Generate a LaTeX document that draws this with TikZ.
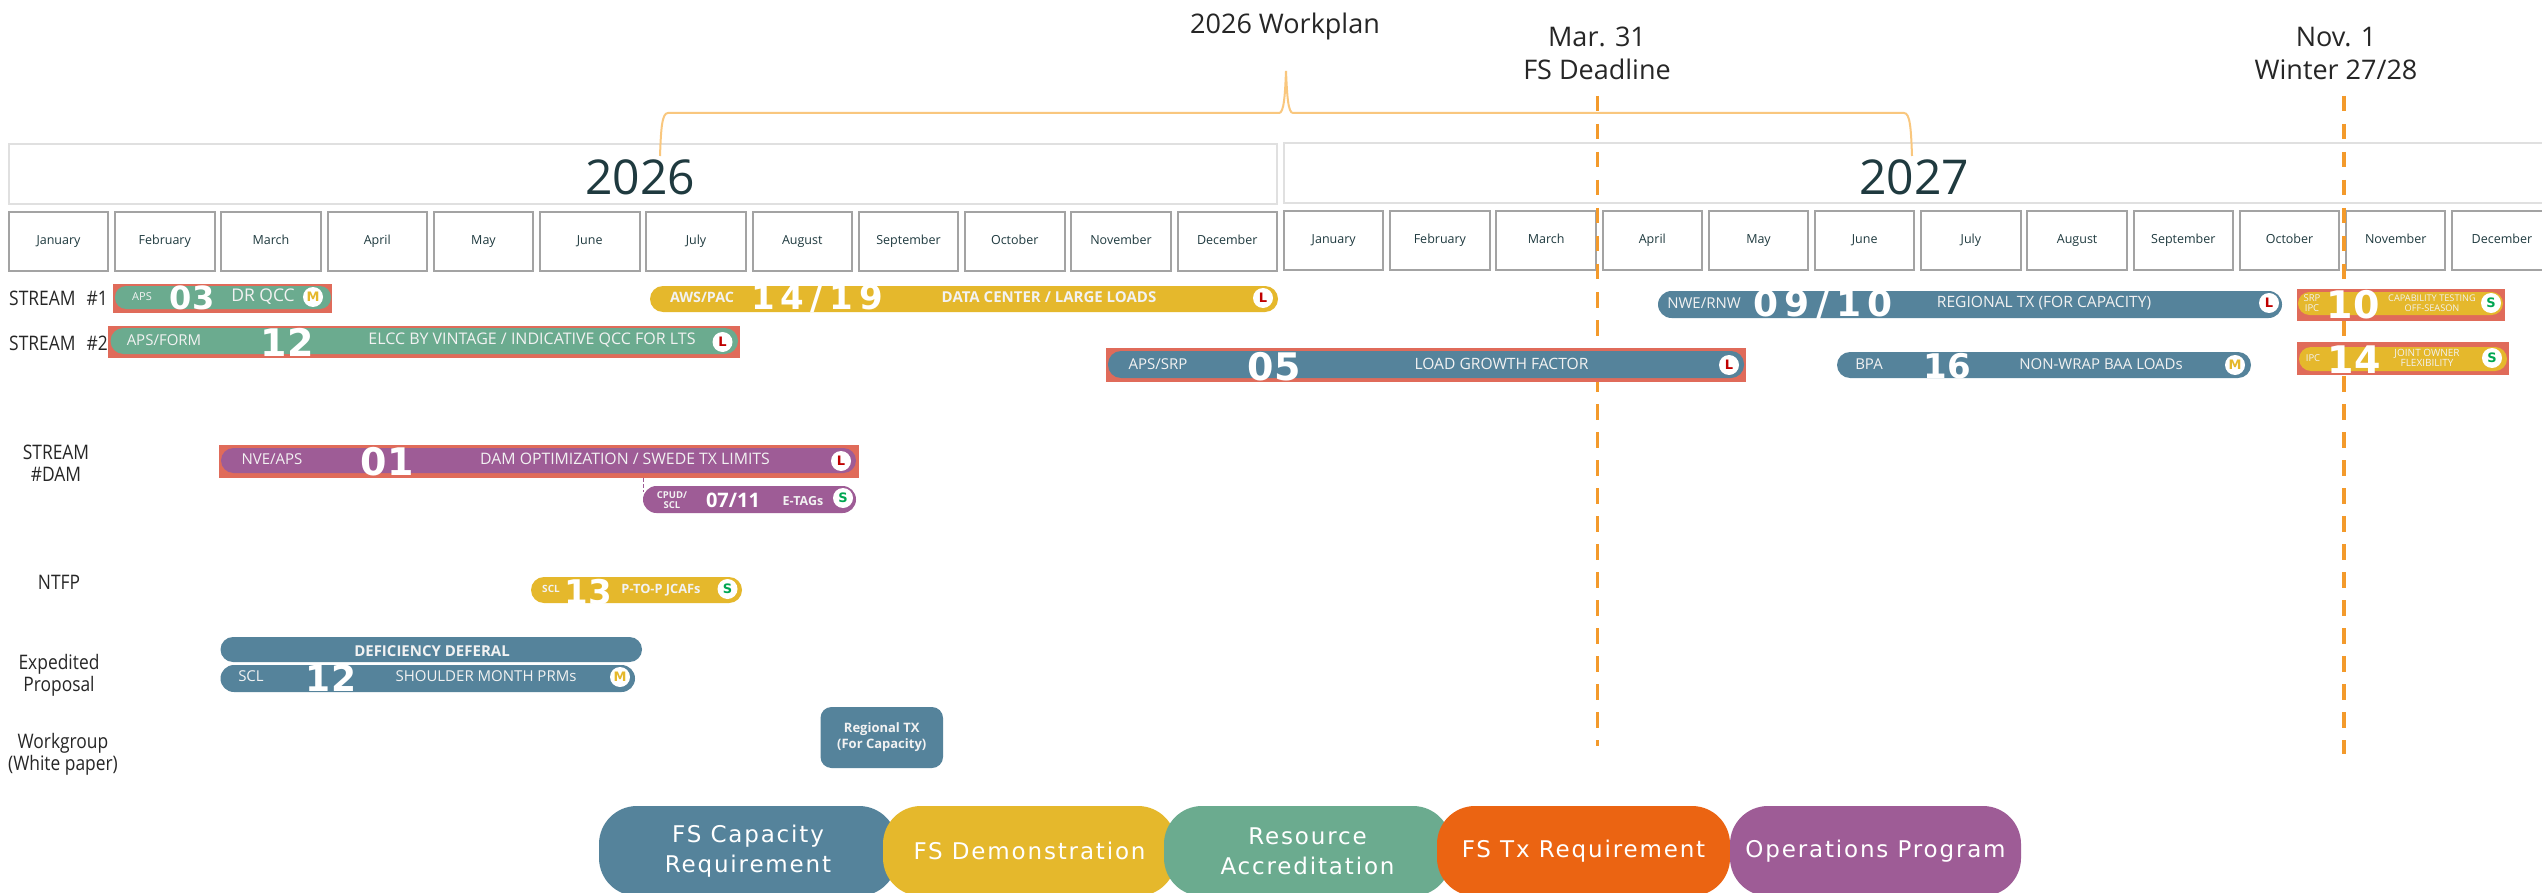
\documentclass[tikz,border=0pt]{standalone}
\usepackage{fontspec}
\setmainfont{Open Sans}
\newfontfamily\numfont{DejaVu Sans}
\newfontfamily\numspaced{DejaVu Sans}[LetterSpace=18]
\newfontfamily\legfont{DejaVu Sans}[LetterSpace=8]
\newfontfamily\narrowf{Open Sans}[FakeStretch=0.87]
\definecolor{cblue}{HTML}{55839B}
\definecolor{cyellow}{HTML}{E5B82C}
\definecolor{cgreen}{HTML}{6BAB8F}
\definecolor{corange}{HTML}{EB6412}
\definecolor{cpurple}{HTML}{9E5C96}
\definecolor{cred}{HTML}{E06B5A}
\definecolor{cdark}{HTML}{1F3A3F}
\definecolor{cbrace}{HTML}{F9C77E}
\definecolor{cdash}{HTML}{F39A2B}
\definecolor{cltxt}{HTML}{F2F2F2}
\definecolor{clabel}{HTML}{262626}
\definecolor{bL}{HTML}{C00000}
\definecolor{bM}{HTML}{E5B82C}
\definecolor{bS}{HTML}{00A651}
\newcommand\fs[1]{\fontsize{#1}{#1}\selectfont}
\newcommand\fsl[2]{\fontsize{#1}{#2}\selectfont}
\tikzset{
  yearbox/.style={draw=black!12,line width=2pt,fill=white,inner sep=0pt,minimum height=60pt},
  monthbox/.style={draw=black!36,line width=2pt,fill=white,inner sep=0pt,minimum height=59pt,minimum width=99.5pt,text=cdark,font=\fs{12.5},text height=10pt,text depth=3.5pt},
  yeartxt/.style={text=cdark,inner sep=0pt,font=\fs{48}},
  headtxt/.style={text=clabel,inner sep=0pt,align=center,font=\fsl{27}{33}},
  rowtxt/.style={text=clabel,inner sep=0pt,align=center,font=\narrowf\fsl{20}{22}},
  barbox/.style={inner sep=0pt,line width=0pt,draw=none},
  lbl/.style={text=cltxt,inner sep=0pt,align=center},
  numtxt/.style={text=white,inner sep=0pt},
  badge/.style={circle,fill=white,inner sep=0pt,minimum size=20pt,font=\numfont\bfseries\fs{13}},
  legend/.style={inner sep=0pt,text=white,align=center,rounded corners=38pt,font=\legfont\fsl{23}{30}},
  deadline/.style={draw=cdash,line width=3.5pt,dash pattern=on 15.5pt off 12.5pt},
  bracket/.style={draw=cbrace,line width=2pt},
}
% rectangle bar: name, x1, y1, x2, y2, colour, radius
\newcommand\pillbar[7]{\node[barbox,fill=#6,rounded corners=#7pt,minimum width={#4-#2},minimum height={#5-#3}] (#1) at ({(#2+#4)/2},{(#3+#5)/2}) {};}
\newcommand\redbar[5]{\node[barbox,fill=cred,minimum width={#4-#2},minimum height={#5-#3}] (#1) at ({(#2+#4)/2},{(#3+#5)/2}) {};}
\newcommand\lab[5]{\node[lbl,font=\fsl{#4}{10}] (#1) at (#2,#3) {#5};}
\newcommand\num[5]{\node[numtxt,font=\numfont\bfseries\fs{#4}] (#1) at (#2,#3) {#5};}
\newcommand\snum[5]{\node[numtxt,font=\numspaced\bfseries\fs{#4}] (#1) at (#2,#3) {#5};}
\newcommand\bdg[4]{\node[badge,text=b#4] (#1) at (#2,#3) {#4};}
\begin{document}
\begin{tikzpicture}[x=1pt,y=-1pt]
\useasboundingbox (0,0) rectangle (2542,893);
\clip (0,0) rectangle (2542,893);
\fill[white] (0,0) rectangle (2542,893);

% year boxes
\node[yearbox,minimum width=1268pt] (y26box) at (642.5,174) {};
\node[yearbox,minimum width=1290pt] (y27box) at (1929,173) {};
\node[yeartxt] (y26) at (640,177) {2026};
\node[yeartxt] (y27) at (1914,177) {2027};

% months
\foreach \mname [count=\i from 0] in {January,February,March,April,May,June,July,August,September,October,November,December}{
  \node[monthbox] (ma\i) at ({58.5+106.25*\i},241.5) {\mname};
  \node[monthbox] (mb\i) at ({1333.7+106.2*\i},240.5) {\mname};
}

% heading bracket
\coordinate (bl) at (660,156);
\coordinate (bt) at (1286,71);
\coordinate (br) at (1912,156);
\draw[bracket] (bl) .. controls (661,128) and (662,113) .. (668,113) -- (1279,113) .. controls (1284,113) and (1285,95) .. (bt) .. controls (1287,95) and (1288,113) .. (1293,113) -- (1904,113) .. controls (1910,113) and (1911,128) .. (br);

\node[headtxt] (wp) at (1285,26) {2026 Workplan};
\node[headtxt] (mar) at (1597,53) {Mar. 31\\FS Deadline};
\node[headtxt] (nov) at (2336,53) {Nov. 1\\Winter 27/28};

% deadlines
\coordinate (d1t) at (1597.5,96);
\coordinate (d1b) at (1597.5,746);
\coordinate (d2t) at (2344,96);
\coordinate (d2b) at (2344,754);
\draw[deadline] (d1t) -- (d1b);
\draw[deadline] (d2t) -- (d2b);

% row labels
\node[rowtxt,anchor=west] (r1) at (9,298) {STREAM\hspace{11pt}\#1};
\node[rowtxt,anchor=west] (r2) at (9,343) {STREAM\hspace{11pt}\#2};
\node[rowtxt] (r3) at (56,463) {STREAM\\\#DAM};
\node[rowtxt] (r4) at (59,582) {NTFP};
\node[rowtxt] (r5) at (59,675) {Expedited\\Proposal};
\node[rowtxt] (r6) at (63,754) {Workgroup\\(White paper)};

% 03
\redbar{b03r}{113}{284}{332}{313}
\pillbar{b03}{115}{286}{331}{309}{cgreen}{11}
\lab{t03a}{142}{297}{11}{APS}
\num{t03n}{192}{298}{32}{03}
\lab{t03b}{263}{297}{17.5}{DR QCC}
\bdg{t03c}{313}{297}{M}

% 12 stream 2
\redbar{b12r}{108}{326}{740}{358}
\pillbar{b12}{110.5}{328}{738}{354}{cgreen}{13}
\lab{t12a}{164}{340}{15}{APS/FORM}
\num{t12n}{287}{342}{38}{12}
\lab{t12b}{532}{340}{16}{ELCC BY VINTAGE / INDICATIVE QCC FOR LTS}
\bdg{t12c}{722.5}{342}{L}

% 14/19
\pillbar{b14}{650}{286}{1278}{312}{cyellow}{13}
\lab{t14a}{702}{297}{14.3}{\bfseries AWS/PAC}
\snum{t14n}{817}{298}{34}{14/19}
\lab{t14b}{1049}{297}{15}{\bfseries DATA CENTER / LARGE LOADS}
\bdg{t14c}{1263}{298}{L}

% 05
\redbar{b05r}{1106}{348}{1746}{382}
\pillbar{b05}{1108}{351}{1744}{378}{cblue}{13}
\lab{t05a}{1158}{364}{15}{APS/SRP}
\num{t05n}{1274}{367}{38}{05}
\lab{t05b}{1501.5}{364}{15.6}{LOAD GROWTH FACTOR}
\bdg{t05c}{1729}{365}{L}

% 09/10
\pillbar{b09}{1658}{291}{2282}{318}{cblue}{13.5}
\lab{t09a}{1704}{303}{15}{NWE/RNW}
\snum{t09n}{1823}{305}{36}{09/10}
\lab{t09b}{2044}{303}{15.6}{REGIONAL TX (FOR CAPACITY)}
\bdg{t09c}{2269}{303}{L}

% 16
\pillbar{b16}{1837}{352}{2251}{378}{cblue}{13}
\lab{t16a}{1869}{364}{15}{BPA}
\num{t16n}{1947}{366}{34}{16}
\lab{t16b}{2101}{364}{15}{NON-WRAP BAA LOADs}
\bdg{t16c}{2235}{365}{M}

% 10
\redbar{b10r}{2297}{289}{2505}{321}
\pillbar{b10}{2298}{292}{2503}{315}{cyellow}{11.5}
\lab{t10a}{2312}{303.5}{9.5}{SRP\\IPC}
\num{t10n}{2353}{305}{38}{10}
\lab{t10b}{2432}{303.5}{9.2}{CAPABILITY TESTING\\OFF-SEASON}
\bdg{t10c}{2491}{303}{S}

% 14 joint owner
\redbar{b15r}{2297}{342}{2509}{375}
\pillbar{b15}{2299}{347}{2507}{371}{cyellow}{12}
\lab{t15a}{2313}{358}{9.5}{IPC}
\num{t15n}{2354}{360}{38}{14}
\lab{t15b}{2427}{358}{10}{JOINT OWNER\\FLEXIBILITY}
\bdg{t15c}{2492}{358}{S}

% 01
\redbar{b01r}{219}{445}{858.5}{478}
\pillbar{b01}{221}{448}{856}{473}{cpurple}{12.5}
\lab{t01a}{272}{459}{15}{NVE/APS}
\num{t01n}{387}{462}{38}{01}
\lab{t01b}{625}{459}{15.8}{DAM OPTIMIZATION / SWEDE TX LIMITS}
\bdg{t01c}{841}{461}{L}

% 07/11
\pillbar{b07}{643}{486}{856}{513}{cpurple}{13.5}
\coordinate (tickt) at (643.6,478);
\coordinate (tickb) at (643.6,492);
\draw[cpurple,line width=1.2pt,dash pattern=on 4pt off 2pt] (tickt) -- (tickb);
\lab{t07a}{672}{500}{9.5}{\bfseries CPUD/\\\bfseries SCL}
\node[numtxt,font=\bfseries\fs{20}] (t07n) at (733,500) {07/11};
\lab{t07b}{803}{501}{12.5}{\bfseries E-TAGs}
\bdg{t07c}{843}{498}{S}

% 13
\pillbar{b13}{531}{577}{742}{603}{cyellow}{13}
\lab{t13a}{551}{589}{10}{\bfseries SCL}
\num{t13n}{588}{592}{34}{13}
\lab{t13b}{661}{590}{12.8}{\bfseries P-TO-P JCAFs}
\bdg{t13c}{727.5}{589}{S}

% deficiency deferal
\pillbar{bdd}{220.5}{637}{642}{662}{cblue}{12.5}
\lab{tdd}{432}{651}{15}{\bfseries DEFICIENCY DEFERAL}

% 12 expedited
\pillbar{bsm}{220.5}{665}{635}{692}{cblue}{13.5}
\lab{tsma}{251}{676}{15}{SCL}
\num{tsmn}{331}{678}{36}{12}
\lab{tsmb}{486}{676}{15}{SHOULDER MONTH PRMs}
\bdg{tsmc}{620}{677}{M}

% regional tx box
\node[barbox,fill=cblue,rounded corners=11pt,minimum width=122.5pt,minimum height=61pt,text=cltxt,align=center,font=\bfseries\fsl{13}{16}] (brt) at (881.75,737.5) {Regional TX\\(For Capacity)};

% legend
\node[legend,fill=cblue,minimum width=298pt,minimum height=90pt] (l1) at (748,851) {FS Capacity\\Requirement};
\node[legend,fill=cyellow,minimum width=293pt,minimum height=90pt] (l2) at (1029.5,851) {FS Demonstration};
\node[legend,fill=cgreen,minimum width=287pt,minimum height=90pt] (l3) at (1307.5,851) {Resource\\Accreditation};
\node[legend,fill=corange,minimum width=293pt,minimum height=90pt] (l4) at (1583.5,851) {FS Tx Requirement};
\node[legend,fill=cpurple,minimum width=291pt,minimum height=90pt] (l5) at (1875.5,851) {Operations Program};
\end{tikzpicture}
\end{document}
